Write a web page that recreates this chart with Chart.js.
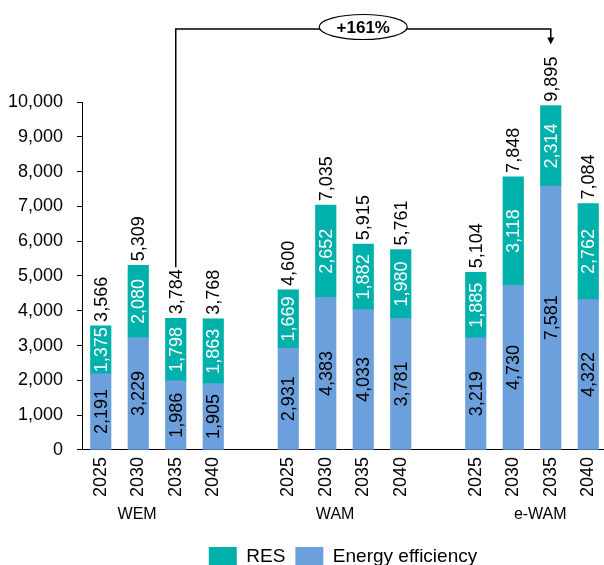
<!DOCTYPE html>
<html>
<head>
<meta charset="utf-8">
<script src="https://cdn.jsdelivr.net/npm/chart.js@4.4.1/dist/chart.umd.min.js"></script>
<style>
  html, body { margin: 0; padding: 0; background: #fff; overflow: hidden; }
  #wrap { position: relative; width: 604px; height: 577px; }
</style>
</head>
<body>
<div id="wrap"><canvas id="chart"></canvas></div>
<script>
const years = ['2025', '2030', '2035', '2040'];
const scenarios = ['WEM', 'WAM', 'e-WAM'];
// Energy efficiency (bottom) and RES (top), scenario by scenario
const efficiency = [2191, 3229, 1986, 1905, 2931, 4383, 4033, 3781, 3219, 4730, 7581, 4322];
const renewables = [1375, 2080, 1798, 1863, 1669, 2652, 1882, 1980, 1885, 3118, 2314, 2762];
const yMax = 10000;
const yStep = 1000;
const growthLabel = '+161%';

const colors = {
    teal: '#00B0AA',
    blue: '#6CA0DC'
};
const FONT = "'Liberation Sans', Arial, sans-serif";
// where each scenario name sits, in x-axis slot units
const scenarioLabelAt = [0.97, 6.25, 11.72];

// slot on the x axis: four years per scenario, one empty slot between scenarios
const slots = efficiency.map((_, k) => Math.floor(k / years.length) * (years.length + 1) + k % years.length);
const fmt = v => v.toLocaleString('en-US');

function drawRotated(ctx, text, x, y, align, color) {
    ctx.save();
    ctx.translate(x, y);
    ctx.rotate(-Math.PI / 2);
    ctx.textAlign = align;
    ctx.textBaseline = 'middle';
    ctx.fillStyle = color;
    ctx.fillText(text, 0, 1);
    ctx.restore();
}

const barLabels = {
    id: 'barLabels',
    afterDatasetsDraw(chart) {
        const ctx = chart.ctx;
        ctx.save();
        ctx.font = '18px ' + FONT;
        chart.data.datasets.forEach((ds, di) => {
            chart.getDatasetMeta(di).data.forEach((bar, k) => {
                drawRotated(ctx, fmt(ds.data[k].y), bar.x, (bar.y + bar.base) / 2, 'center', ds.labelColor);
            });
        });
        chart.getDatasetMeta(1).data.forEach((bar, k) => {
            drawRotated(ctx, fmt(efficiency[k] + renewables[k]), bar.x, bar.y - 4, 'left', '#000');
        });
        ctx.restore();
    }
};

const groupLabels = {
    id: 'groupLabels',
    afterDraw(chart) {
        const ctx = chart.ctx;
        const x = chart.scales.x;
        ctx.save();
        ctx.font = '16px ' + FONT;
        ctx.fillStyle = '#000';
        ctx.textAlign = 'center';
        ctx.textBaseline = 'middle';
        scenarios.forEach((name, g) => {
            ctx.fillText(name, x.getPixelForValue(scenarioLabelAt[g]), x.bottom - 22);
        });
        ctx.restore();
    }
};

// bracket from WEM 2035 to e-WAM 2035 with the growth badge
const growthBracket = {
    id: 'growthBracket',
    afterDraw(chart) {
        const ctx = chart.ctx;
        const meta = chart.getDatasetMeta(1);
        const from = 2, to = 10;
        ctx.save();
        ctx.font = '18px ' + FONT;
        const topOf = k => meta.data[k].y - 4 - ctx.measureText(fmt(efficiency[k] + renewables[k])).width;
        const x1 = meta.data[from].x, x2 = meta.data[to].x;
        const yLine = 29;
        const y1 = topOf(from) - 2;
        const tip = topOf(to) - 12;
        ctx.strokeStyle = '#000';
        ctx.fillStyle = '#000';
        ctx.lineWidth = 1.5;
        ctx.beginPath();
        ctx.moveTo(x1, y1);
        ctx.lineTo(x1, yLine);
        ctx.lineTo(x2, yLine);
        ctx.lineTo(x2, tip - 6);
        ctx.stroke();
        ctx.beginPath();
        ctx.moveTo(x2 - 3.5, tip - 7);
        ctx.lineTo(x2 + 3.5, tip - 7);
        ctx.lineTo(x2, tip);
        ctx.closePath();
        ctx.fill();

        const cx = (x1 + x2) / 2;
        ctx.beginPath();
        ctx.ellipse(cx, yLine - 2, 44, 12.5, 0, 0, Math.PI * 2);
        ctx.fillStyle = '#fff';
        ctx.fill();
        ctx.lineWidth = 1.2;
        ctx.stroke();
        ctx.fillStyle = '#000';
        ctx.font = 'bold 17px ' + FONT;
        ctx.textAlign = 'center';
        ctx.textBaseline = 'middle';
        ctx.fillText(growthLabel, cx, yLine - 1);
        ctx.restore();
    }
};

Chart.defaults.font.family = FONT;
Chart.defaults.color = '#000';

new Chart(document.getElementById('chart'), {
    type: 'bar',
    data: {
        datasets: [{
            label: 'Energy efficiency',
            data: efficiency.map((v, k) => ({ x: slots[k], y: v })),
            backgroundColor: colors.blue,
            labelColor: '#000',
            barThickness: 20.5
        }, {
            label: 'RES',
            data: renewables.map((v, k) => ({ x: slots[k], y: v })),
            backgroundColor: colors.teal,
            labelColor: '#fff',
            barThickness: 20.5
        }]
    },
    options: {
        responsive: true,
        maintainAspectRatio: false,
        animation: false,
        layout: { padding: { top: 102, left: 0, right: 0, bottom: 0 } },
        plugins: {
            legend: {
                position: 'bottom',
                fullSize: false,
                reverse: true,
                labels: { boxWidth: 28, boxHeight: 20, padding: 10, font: { size: 19 }, color: '#000' }
            },
            tooltip: { enabled: false }
        },
        scales: {
            x: {
                type: 'linear',
                stacked: true,
                offset: false,
                min: -0.5,
                max: 13.42,
                grid: { display: false, drawTicks: false },
                border: { display: true, color: '#000', width: 1 },
                afterBuildTicks: scale => { scale.ticks = slots.map(v => ({ value: v })); },
                afterFit: scale => {
                    scale.height += 33;
                    scale.paddingLeft = 0;
                    scale.paddingRight = 0;
                },
                ticks: {
                    autoSkip: false,
                    minRotation: 90,
                    maxRotation: 90,
                    padding: 7,
                    font: { size: 18 },
                    callback: v => years[v % (years.length + 1)]
                }
            },
            y: {
                stacked: true,
                min: 0,
                max: yMax,
                grid: { drawOnChartArea: false, drawTicks: true, tickLength: 5, color: '#000' },
                border: { display: true, color: '#000', width: 1 },
                afterFit: scale => { scale.width = 82; },
                ticks: {
                    stepSize: yStep,
                    padding: 14,
                    font: { size: 18 },
                    callback: v => fmt(v)
                }
            }
        }
    },
    plugins: [barLabels, groupLabels, growthBracket]
});
</script>
</body>
</html>
